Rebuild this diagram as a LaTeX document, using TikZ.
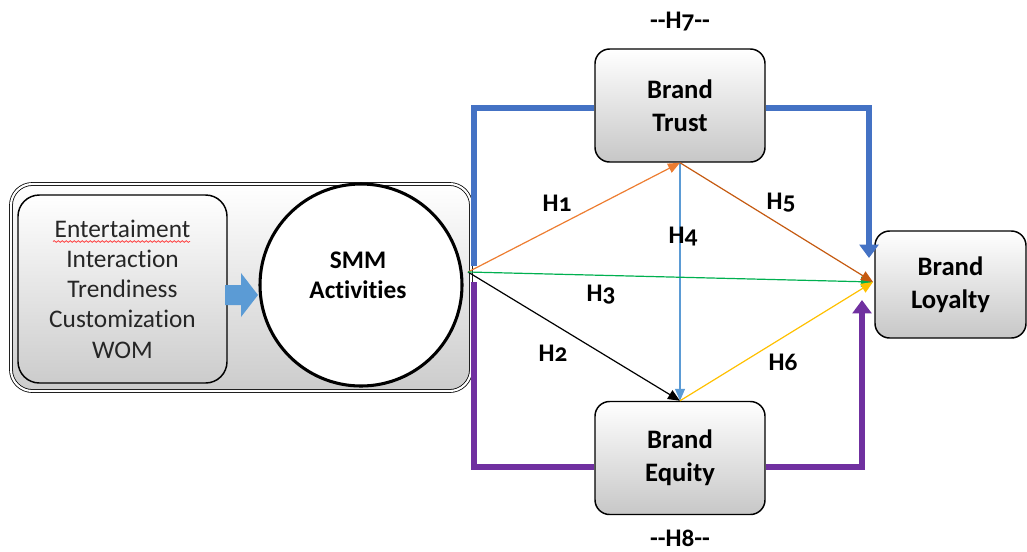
\documentclass[tikz,border=0pt]{standalone}
\usepackage{fontspec}
\setmainfont[Ligatures={TeX,NoCommon}]{Carlito}
\newfontfamily\hfont[Numbers=OldStyle,Ligatures=NoCommon]{Carlito}
\usetikzlibrary{arrows.meta,decorations.pathmorphing}
\definecolor{tblue}{HTML}{4472C4}
\definecolor{tpurple}{HTML}{7030A0}
\definecolor{torange}{HTML}{ED7D31}
\definecolor{tbrown}{HTML}{C55A11}
\definecolor{tgreen}{HTML}{00B050}
\definecolor{tyellow}{HTML}{FFC000}
\definecolor{tlblue}{HTML}{5B9BD5}
\begin{document}
\begin{tikzpicture}[x=0.75pt,y=-0.75pt,
  box/.style={draw=black, line width=1.1pt, rounded corners=11pt, top color=white, bottom color=black!22,
    align=center, font=\bfseries\fontsize{20}{25}\selectfont, inner sep=0pt},
  hyp/.style={font=\hfont\bfseries\fontsize{19}{22}\selectfont},
  thinarr/.style={line width=0.9pt, -{Triangle[length=9pt,width=7.5pt]}},
  thickarr/.style={line width=3.8pt, -{Triangle[length=10pt,width=14pt]}}
]
\useasboundingbox (0,0) rectangle (1027,551);

% left composite
\node[draw=black, line width=0.6pt, double=white, double distance=1.6pt, rounded corners=16pt,
  top color=white, bottom color=black!20, minimum width=345pt, minimum height=155.25pt, inner sep=0pt]
  (outer) at (241,287.5) {};
\node[draw=black, line width=1.1pt, rounded corners=16pt, top color=white, bottom color=black!20,
  minimum width=156.75pt, minimum height=141pt, inner sep=0pt, align=center,
  font=\fontsize{19}{22.7}\selectfont, text=black!85]
  (inner) at (122.5,289) {Entertaiment\\Interaction\\Trendiness\\Customization\\WOM};
\draw[red!75, line width=0.55pt, decorate, decoration={snake, amplitude=0.7pt, segment length=3pt}]
  (53,241.5) -- (190,241.5);
\node[circle, draw=black, line width=2.3pt, fill=white, minimum size=151.5pt, inner sep=0pt] (smm) at (361,285) {};
\node[align=center, font=\bfseries\fontsize{19}{22.5}\selectfont] (smmtext) at (358,275) {SMM\\Activities};
\fill[tlblue] (225,285) -- (241,285) -- (241,273) -- (258,295) -- (241,317) -- (241,305) -- (225,305) -- cycle;

% construct boxes
\node[box, minimum width=127.5pt, minimum height=84.75pt] (trust) at (680,105.5) {Brand\\Trust};
\node[box, minimum width=127.5pt, minimum height=84.75pt] (equity) at (680,458) {Brand\\Equity};
\node[box, minimum width=113.25pt, minimum height=80.25pt] (loyalty) at (950.5,284.5) {Brand\\Loyalty};

% coordinates
\coordinate (O) at (468,272);
\coordinate (bl) at (474,266);
\coordinate (bt) at (0,108);
\coordinate (btip) at (869,258);
\coordinate (pl) at (474,282);
\coordinate (pb) at (0,467);
\coordinate (ptip) at (862,300);
\coordinate (L) at (873,282);

% thick mediation paths
\draw[line width=3.8pt, tblue] (bl) |- (trust.west |- bt);
\draw[thickarr, tblue] (trust.east |- bt) -| (btip);
\draw[line width=3.8pt, tpurple] (pl) |- (equity.west |- pb);
\draw[thickarr, tpurple] (equity.east |- pb) -| (ptip);

% hypotheses
\draw[thinarr, tlblue] (trust.south) -- (equity.north);
\draw[thinarr, torange] (O) -- (trust.south);
\draw[thinarr, black] (O) -- (equity.north);
\draw[thinarr, tgreen] (O) -- (L);
\draw[thinarr, tbrown] (trust.south) -- (L);
\draw[thinarr, tyellow] (equity.north) -- (L);

\node[hyp] (h1) at (557,203) {H1};
\node[hyp] (h5) at (781,203) {H5};
\node[hyp] (h4) at (683,237) {H4};
\node[hyp] (h3) at (601,295) {H3};
\node[hyp] (h2) at (553,353) {H2};
\node[hyp] (h6) at (783,362) {H6};
\node[hyp] (h7) at (680,22) {-{}-H7-{}-};
\node[hyp] (h8) at (680,538) {-{}-H8-{}-};
\end{tikzpicture}
\end{document}
